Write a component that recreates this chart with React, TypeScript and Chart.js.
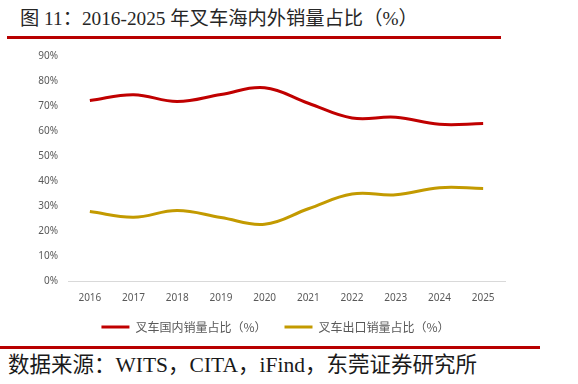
import React, { useEffect, useRef } from "react";
import { Chart, registerables } from "chart.js";

Chart.register(...registerables);

const years = ["2016", "2017", "2018", "2019", "2020", "2021", "2022", "2023", "2024", "2025"];
const domesticShare = [72.2, 74.5, 71.8, 74.6, 77.3, 71.1, 65.2, 65.5, 62.7, 63.0];
const exportShare = [27.8, 25.5, 28.2, 25.4, 22.7, 28.9, 34.8, 34.5, 37.3, 37.0];
const yTicks = [0, 10, 20, 30, 40, 50, 60, 70, 80, 90];
const domesticLabel = "叉车国内销量占比（%）";
const exportLabel = "叉车出口销量占比（%）";
const titleText = "图 11：2016-2025 年叉车海内外销量占比（%）";
const sourceText = "数据来源：WITS，CITA，iFind，东莞证券研究所";

const RED = "#C00000";
const GOLD = "#C39A00";
const AXIS_FONT = "'Noto Sans', 'Noto Sans CJK SC', sans-serif";

const legendShift = {
  id: "legendShift",
  afterLayout(chart: any) {
    if (chart.legend) {
      chart.legend.left += 4;
      chart.legend.right += 4;
    }
  },
};

export default function App() {
  const canvasRef = useRef<HTMLCanvasElement | null>(null);

  useEffect(() => {
    if (!canvasRef.current) return;
    const chart = new Chart(canvasRef.current, {
      type: "line",
      data: {
        labels: years,
        datasets: [
          {
            label: domesticLabel,
            data: domesticShare,
            borderColor: RED,
            backgroundColor: RED,
            borderWidth: 3,
            pointRadius: 0,
            tension: 0.4,
          },
          {
            label: exportLabel,
            data: exportShare,
            borderColor: GOLD,
            backgroundColor: GOLD,
            borderWidth: 3,
            pointRadius: 0,
            tension: 0.4,
          },
        ],
      },
      plugins: [legendShift],
      options: {
        animation: false,
        responsive: false,
        maintainAspectRatio: false,
        layout: { padding: { top: 15, left: 38, right: 73, bottom: 0 } },
        plugins: {
          tooltip: { enabled: false },
          legend: {
            position: "bottom",
            labels: {
              usePointStyle: true,
              pointStyle: "line",
              pointStyleWidth: 28,
              boxHeight: 3,
              padding: 6,
              color: "#595959",
              font: { size: 12, family: "'Noto Sans CJK SC', sans-serif" },
              generateLabels: (c: any) => {
                const items = Chart.defaults.plugins.legend.labels.generateLabels(c);
                return items.map((it: any, i: number) =>
                  i < items.length - 1 ? { ...it, text: it.text + "\u3000\u2002" } : it
                );
              },
            },
          },
        },
        scales: {
          x: {
            offset: true,
            grid: { display: false, drawTicks: false },
            border: { display: true, color: "#D9D9D9", width: 1 },
            ticks: {
              color: "#595959",
              font: { size: 10, family: AXIS_FONT },
              padding: 11,
              maxRotation: 0,
            },
          },
          y: {
            min: 0,
            max: 90,
            afterFit: (scale: any) => {
              scale.width = 30;
            },
            afterBuildTicks: (scale: any) => {
              scale.ticks = yTicks.map((v) => ({ value: v }));
            },
            grid: { display: false, drawTicks: false },
            border: { display: false },
            ticks: {
              color: "#595959",
              font: { size: 10, family: AXIS_FONT },
              padding: 10,
              callback: (v: any) => `${v}%`,
            },
          },
        },
      },
    });
    return () => chart.destroy();
  }, []);

  return (
    <div
      style={{
        position: "absolute",
        left: 0,
        top: 0,
        width: 578,
        height: 384,
        background: "#fff",
        overflow: "hidden",
      }}
    >
      <div
        style={{
          position: "absolute",
          left: 20,
          top: 8,
          fontSize: 19.3,
          lineHeight: "22px",
          whiteSpace: "nowrap",
          color: "#262626",
          fontFamily: "'Liberation Serif', 'Noto Sans CJK SC', serif",
        }}
      >
        {titleText}
      </div>
      <div
        style={{
          position: "absolute",
          left: 7,
          top: 36,
          width: 494,
          height: 3,
          background: "#B80000",
        }}
      />
      <canvas
        ref={canvasRef}
        width={578}
        height={303}
        style={{ position: "absolute", left: 0, top: 40, width: 578, height: 303 }}
      />
      <div
        style={{
          position: "absolute",
          left: 0,
          top: 346,
          width: 540,
          height: 3,
          background: "#B80000",
        }}
      />
      <div
        style={{
          position: "absolute",
          left: 8,
          top: 352,
          fontSize: 21.5,
          lineHeight: "26px",
          whiteSpace: "nowrap",
          color: "#1a1a1a",
          fontFamily: "'Liberation Serif', 'Noto Sans CJK SC', serif",
        }}
      >
        {sourceText}
      </div>
    </div>
  );
}
